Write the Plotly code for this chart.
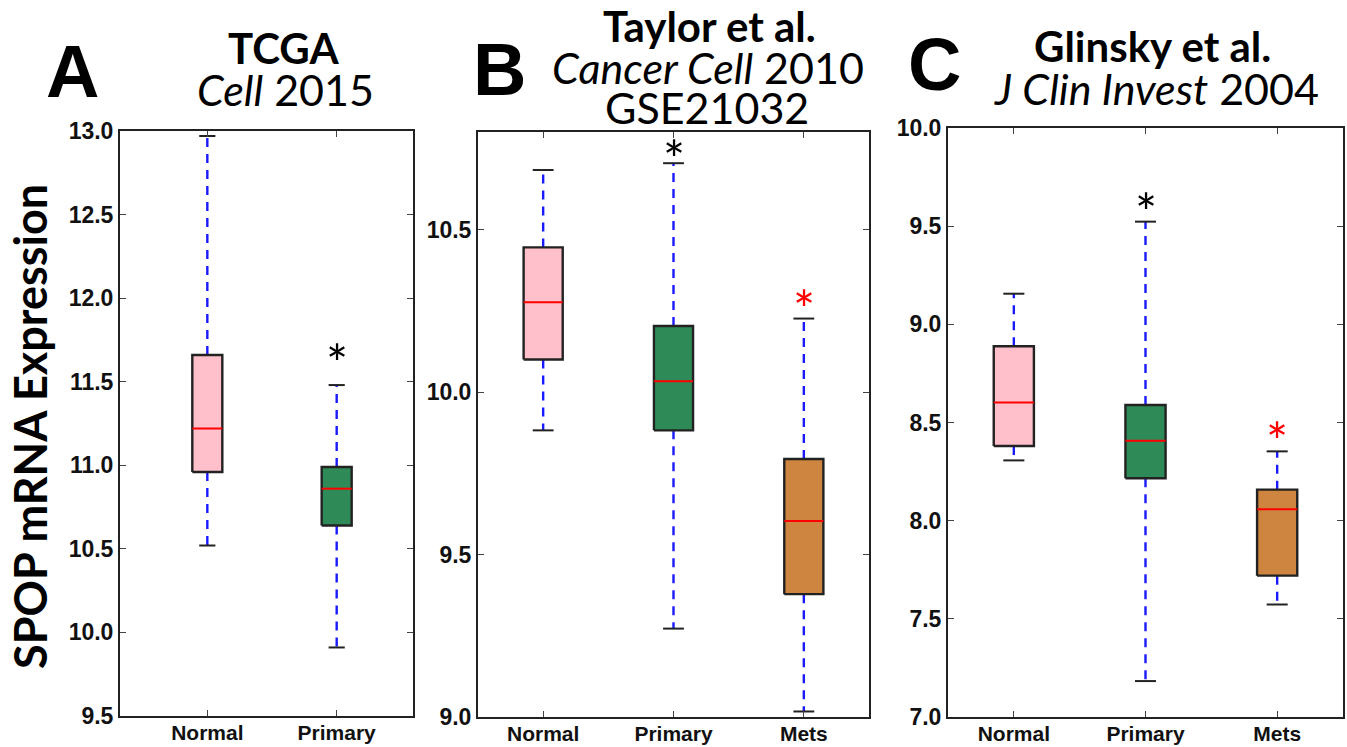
import plotly.graph_objects as go

# ---------------- data ----------------
A_cats = ["Normal", "Primary"]
A_upper = [12.97, 11.48]
A_q3 = [11.66, 10.99]
A_med = [11.22, 10.86]
A_q1 = [10.96, 10.64]
A_lower = [10.52, 9.91]
A_star_y = [None, 11.68]
A_star_col = [None, "black"]

B_cats = ["Normal", "Primary", "Mets"]
B_upper = [10.683, 10.704, 10.226]
B_q3 = [10.445, 10.203, 9.794]
B_med = [10.276, 10.033, 9.603]
B_q1 = [10.10, 9.882, 9.378]
B_lower = [9.882, 9.272, 9.017]
B_star_y = [None, 10.75, 10.29]
B_star_col = [None, "black", "red"]

C_cats = ["Normal", "Primary", "Mets"]
C_upper = [9.156, 9.523, 8.353]
C_q3 = [8.888, 8.589, 8.158]
C_med = [8.602, 8.407, 8.058]
C_q1 = [8.38, 8.216, 7.72]
C_lower = [8.307, 7.183, 7.573]
C_star_y = [None, 9.63, 8.46]
C_star_col = [None, "black", "red"]

A_yticks = [9.5, 10.0, 10.5, 11.0, 11.5, 12.0, 12.5, 13.0]
B_yticks = [9.0, 9.5, 10.0, 10.5]
C_yticks = [7.0, 7.5, 8.0, 8.5, 9.0, 9.5, 10.0]

box_colors = ["#FFC0CB", "#2E8B57", "#CD853F"]

W, H = 1347, 747

panels = [
    dict(cats=A_cats, up=A_upper, q3=A_q3, med=A_med, q1=A_q1, lo=A_lower,
         sy=A_star_y, sc=A_star_col, yt=A_yticks,
         xr=[0.325, 2.59], yr=[9.5, 13.0], bw=0.232, cw=0.125,
         px=(120, 413), py=(131, 716)),
    dict(cats=B_cats, up=B_upper, q3=B_q3, med=B_med, q1=B_q1, lo=B_lower,
         sy=B_star_y, sc=B_star_col, yt=B_yticks,
         xr=[0.5, 3.5], yr=[9.0, 10.8], bw=0.30, cw=0.16,
         px=(478, 869), py=(132, 717)),
    dict(cats=C_cats, up=C_upper, q3=C_q3, med=C_med, q1=C_q1, lo=C_lower,
         sy=C_star_y, sc=C_star_col, yt=C_yticks,
         xr=[0.5, 3.5], yr=[7.0, 10.0], bw=0.305, cw=0.16,
         px=(948, 1343), py=(128, 717)),
]

fig = go.Figure()
annotations = []
layout = {}

for i, p in enumerate(panels):
    ax = "" if i == 0 else str(i + 1)
    xa, ya = "x" + ax, "y" + ax
    for j, cat in enumerate(p["cats"]):
        pos = j + 1
        hb, hc = p["bw"] / 2, p["cw"] / 2
        # whiskers
        for a, b in [(p["q3"][j], p["up"][j]), (p["q1"][j], p["lo"][j])]:
            fig.add_trace(go.Scatter(x=[pos, pos], y=[a, b], mode="lines",
                                     line=dict(color="#1a1aff", width=2.4, dash="9px,7px"),
                                     xaxis=xa, yaxis=ya, showlegend=False, hoverinfo="skip"))
        # caps
        for v in [p["up"][j], p["lo"][j]]:
            fig.add_trace(go.Scatter(x=[pos - hc, pos + hc], y=[v, v], mode="lines",
                                     line=dict(color="#222", width=2),
                                     xaxis=xa, yaxis=ya, showlegend=False, hoverinfo="skip"))
        # box
        fig.add_trace(go.Scatter(
            x=[pos - hb, pos + hb, pos + hb, pos - hb, pos - hb],
            y=[p["q1"][j], p["q1"][j], p["q3"][j], p["q3"][j], p["q1"][j]],
            mode="lines", fill="toself", fillcolor=box_colors[j],
            line=dict(color="#222", width=2.4),
            xaxis=xa, yaxis=ya, showlegend=False, hoverinfo="skip"))
        # median
        fig.add_trace(go.Scatter(x=[pos - hb, pos + hb], y=[p["med"][j], p["med"][j]],
                                 mode="lines", line=dict(color="#ff0000", width=2),
                                 xaxis=xa, yaxis=ya, showlegend=False, hoverinfo="skip"))
        # asterisk
        if p["sy"][j] is not None:
            annotations.append(dict(x=pos, y=p["sy"][j], xref=xa, yref=ya, text="*",
                                    showarrow=False, yshift=-11,
                                    font=dict(family="Lato", size=52, color=p["sc"][j])))
    dom_x = [p["px"][0] / W, p["px"][1] / W]
    dom_y = [1 - p["py"][1] / H, 1 - p["py"][0] / H]
    layout["xaxis" + ax] = dict(domain=dom_x, range=p["xr"], tickvals=list(range(1, len(p["cats"]) + 1)),
                                ticktext=p["cats"], showline=True, linecolor="#222", linewidth=2,
                                mirror="allticks", ticks="inside", ticklen=6, tickcolor="#444",
                                showgrid=False, zeroline=False, anchor=ya, automargin=False,
                                ticklabelstandoff=-3,
                                tickfont=dict(family="Liberation Sans", size=21, color="#111", weight="bold"))
    layout["yaxis" + ax] = dict(domain=dom_y, range=p["yr"], tickvals=p["yt"], tickformat=".1f",
                                showline=True, linecolor="#222", linewidth=2,
                                mirror="allticks", ticks="inside", ticklen=6, tickcolor="#444",
                                showgrid=False, zeroline=False, anchor=xa, automargin=False,
                                tickfont=dict(family="Liberation Sans", size=23, color="#111", weight="bold"))

def txt(x, y, text, size, family="Lato"):
    annotations.append(dict(x=x / W, y=1 - y / H, xref="paper", yref="paper", text=text,
                            showarrow=False, xanchor="center", yanchor="middle",
                            font=dict(family=family, size=size, color="black")))

# panel letters
txt(72, 72, "<b>A</b>", 74, "Liberation Sans")
txt(500, 69, "<b>B</b>", 74, "Liberation Sans")
txt(935, 65, "<b>C</b>", 74, "Liberation Sans")
# titles
txt(283, 48, "<b>TCGA</b>", 42)
txt(285, 89, "<i>Cell</i> 2015", 43)
txt(709, 26, "<b>Taylor et al.</b>", 42)
txt(708, 67, "<i>Cancer Cell</i> 2010", 43)
txt(707, 107, "GSE21032", 43)
txt(1152, 46, "<b>Glinsky et al.</b>", 42)
txt(1156, 88, "<i>J Clin Invest</i> 2004", 43)

annotations.append(dict(x=30 / W, y=1 - 427 / H, xref="paper", yref="paper",
                        text="<b>SPOP mRNA Expression</b>", textangle=-90, showarrow=False,
                        xanchor="center", yanchor="middle",
                        font=dict(family="Lato", size=45, color="black")))

fig.update_layout(width=W, height=H, margin=dict(l=0, r=0, t=0, b=0),
                  paper_bgcolor="white", plot_bgcolor="white",
                  annotations=annotations, showlegend=False, **layout)

fig.write_html("out.html", config={"displayModeBar": False})
